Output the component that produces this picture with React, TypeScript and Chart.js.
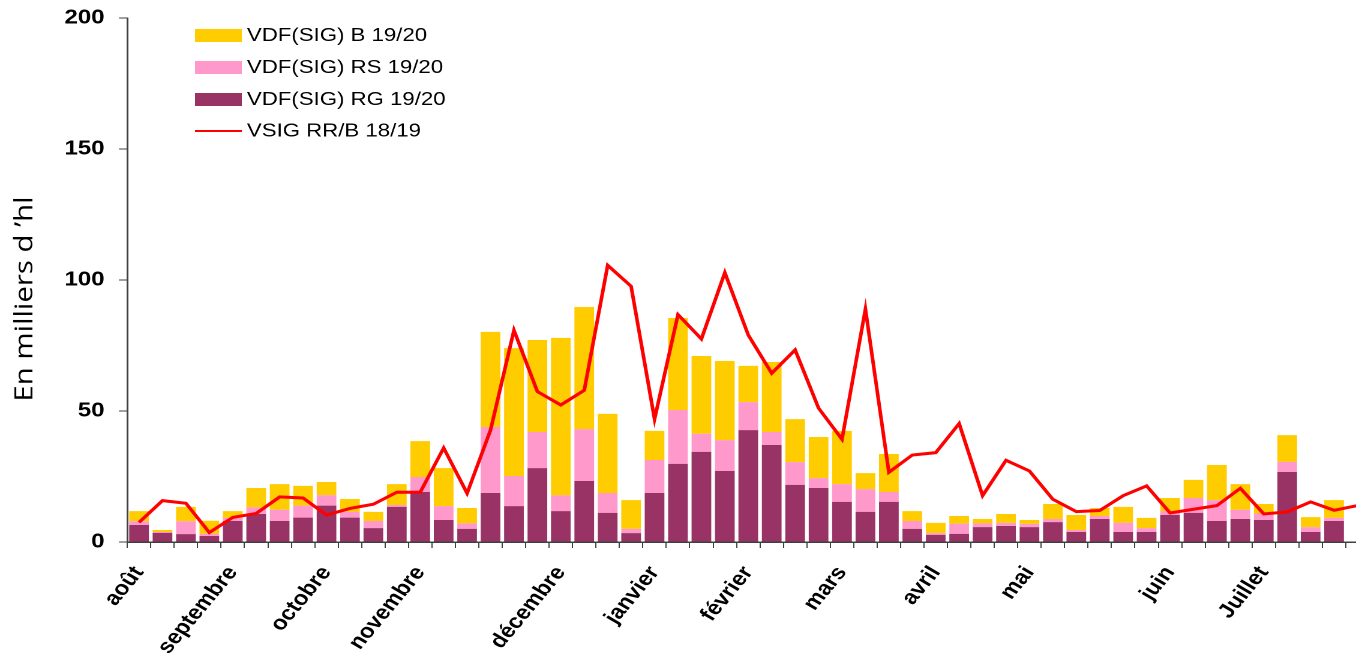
import React, { useEffect, useRef } from "react";
import { Chart, registerables } from "chart.js";

Chart.register(...registerables);

const weekLabels = [
  "août", "", "", "", "septembre", "", "", "", "octobre", "", "", "",
  "novembre", "", "", "", "", "", "décembre", "", "", "", "janvier", "", "",
  "", "février", "", "", "", "mars", "", "", "", "avril", "", "", "", "mai",
  "", "", "", "", "", "juin", "", "", "", "Juillet", "", "", "", "",
];

const rgValues = [
  6.5, 3.5, 3.0, 2.3, 8.0, 10.7, 8.0, 9.3, 13.9, 9.3, 5.3, 13.4, 19.1, 8.4,
  5.0, 18.7, 13.7, 28.2, 11.8, 23.3, 11.1, 3.4, 18.7, 29.8, 34.4, 27.1, 42.7,
  37.0, 21.8, 20.6, 15.3, 11.5, 15.3, 5.0, 2.7, 3.1, 5.7, 6.1, 5.7, 7.6, 3.8,
  8.8, 3.8, 3.8, 10.3, 11.1, 8.0, 8.8, 8.4, 26.7, 3.8, 8.0, null,
];

const rsValues = [
  1.4, 0.3, 4.9, 0.8, 1.2, 2.5, 4.3, 4.6, 4.0, 2.2, 2.7, 0.7, 5.7, 5.3, 2.1,
  25.2, 11.5, 13.8, 6.0, 19.8, 7.6, 1.6, 12.6, 20.6, 6.9, 11.8, 10.7, 5.0, 8.7,
  3.8, 6.8, 8.7, 3.8, 3.0, 0.7, 3.9, 1.4, 1.2, 1.2, 1.2, 0.8, 1.1, 3.5, 1.5,
  1.5, 5.7, 8.0, 3.5, 2.5, 3.9, 1.9, 1.2, null,
];

const bValues = [
  3.9, 0.8, 5.5, 5.0, 2.6, 7.4, 9.8, 7.5, 5.0, 4.9, 3.5, 8.0, 13.7, 14.5, 5.9,
  36.3, 48.8, 35.1, 60.1, 46.6, 30.2, 11.0, 11.1, 35.1, 29.7, 30.2, 13.8, 26.7,
  16.4, 15.7, 20.3, 6.1, 14.5, 3.8, 3.9, 2.9, 1.7, 3.4, 1.5, 5.7, 5.7, 3.1,
  6.1, 3.9, 5.0, 6.9, 13.4, 9.8, 3.6, 10.2, 3.8, 6.8, null,
];

const lineValues = [
  7.5, 15.8, 14.8, 3.6, 9.4, 10.9, 17.2, 16.8, 10.3, 12.8, 14.4, 19.0, 19.0,
  35.9, 18.6, 42.7, 80.8, 57.4, 52.3, 57.9, 105.6, 97.6, 46.9, 86.8, 77.5,
  102.8, 79.0, 64.4, 73.3, 51.1, 39.2, 88.9, 26.6, 33.2, 34.1, 45.2, 17.7,
  31.2, 27.1, 16.3, 11.6, 12.0, 17.7, 21.4, 11.1, 12.5, 13.9, 20.5, 10.7,
  11.5, 15.3, 12.1, 13.9,
];

const yTitle = "En milliers d \u2019hl";

const COLOR_B = "#FFCC00";
const COLOR_RS = "#FF99CC";
const COLOR_RG = "#993366";
const COLOR_LINE = "#FF0000";

const STRETCH = 1.2;
const CANVAS_W = 1146;
const CANVAS_H = 654;
const FONT = '"Liberation Sans", Arial, sans-serif';

export default function App() {
  const ref = useRef<HTMLCanvasElement>(null);

  useEffect(() => {
    if (!ref.current) return;

    const legendPlugin = {
      id: "customLegend",
      afterDraw(chart: any) {
        const ctx = chart.ctx;
        const ds = chart.data.datasets;
        const items = [ds[3], ds[2], ds[1], ds[0]];
        const boxX = 162.5;
        const boxW = 39;
        const textX = 205.8;
        const rowY = [35.5, 67.5, 99.5, 131];
        ctx.save();
        items.forEach((d: any, i: number) => {
          const y = rowY[i];
          if (d.type === "line") {
            ctx.strokeStyle = d.borderColor;
            ctx.lineWidth = 2;
            ctx.beginPath();
            ctx.moveTo(boxX, y);
            ctx.lineTo(boxX + boxW, y);
            ctx.stroke();
          } else {
            ctx.fillStyle = d.backgroundColor;
            ctx.fillRect(boxX, y - 6.5, boxW, 13);
          }
          ctx.fillStyle = "#000";
          ctx.font = `18.5px ${FONT}`;
          ctx.textAlign = "left";
          ctx.textBaseline = "middle";
          ctx.fillText(d.label, textX, y + 0.5);
        });
        ctx.restore();
      },
    };

    const titlePlugin = {
      id: "yTitle",
      afterDraw(chart: any) {
        const ctx = chart.ctx;
        const area = chart.chartArea;
        ctx.save();
        ctx.translate(20.8, (area.top + area.bottom) / 2 + 19);
        ctx.rotate(-Math.PI / 2);
        ctx.scale(1.4, 1);
        ctx.font = `21px "Open Sans", ${FONT}`;
        ctx.fillStyle = "#000";
        ctx.textAlign = "center";
        ctx.textBaseline = "middle";
        ctx.fillText(yTitle, 0, 0);
        ctx.restore();
      },
    };

    const chart = new Chart(ref.current, {
      type: "bar",
      data: {
        labels: weekLabels,
        datasets: [
          {
            type: "line",
            label: "VSIG RR/B 18/19",
            data: lineValues,
            borderColor: COLOR_LINE,
            backgroundColor: COLOR_LINE,
            borderWidth: 3,
            pointRadius: 0,
            tension: 0,
            fill: false,
            order: 0,
            stack: "line",
          } as any,
          {
            label: "VDF(SIG) RG 19/20",
            data: rgValues,
            backgroundColor: COLOR_RG,
            order: 1,
            stack: "bars",
          },
          {
            label: "VDF(SIG) RS 19/20",
            data: rsValues,
            backgroundColor: COLOR_RS,
            order: 1,
            stack: "bars",
          },
          {
            label: "VDF(SIG) B 19/20",
            data: bValues,
            backgroundColor: COLOR_B,
            order: 1,
            stack: "bars",
          },
        ],
      },
      options: {
        responsive: false,
        animation: false,
        devicePixelRatio: 2,
        datasets: {
          bar: { categoryPercentage: 1, barPercentage: 0.84 },
        },
        layout: { padding: { top: 18, right: 5, left: 0, bottom: 0 } },
        plugins: {
          legend: { display: false },
          tooltip: { enabled: false },
          title: { display: false },
        },
        scales: {
          x: {
            stacked: true,
            offset: true,
            grid: {
              offset: true,
              drawOnChartArea: false,
              drawTicks: true,
              tickLength: 6,
              color: "#404040",
              lineWidth: 1,
            },
            border: { display: true, color: "#404040", width: 1.5 },
            ticks: {
              autoSkip: false,
              maxRotation: 55,
              minRotation: 55,
              padding: 14,
              color: "#000",
              font: { family: FONT, size: 20, weight: "bold" },
            },
            afterFit: (s: any) => {
              s.height = CANVAS_H - 542;
              s.paddingLeft = 0;
              s.paddingRight = 0;
            },
          },
          y: {
            stacked: true,
            min: 0,
            max: 200,
            grid: {
              drawOnChartArea: false,
              drawTicks: true,
              tickLength: 7,
              color: "#404040",
            },
            border: { display: true, color: "#404040", width: 1.5 },
            ticks: {
              stepSize: 50,
              padding: 12,
              color: "#000",
              font: { family: FONT, size: 20, weight: "bold" },
            },
            afterFit: (s: any) => {
              s.width = 106.1;
              s.paddingTop = 0;
              s.paddingBottom = 0;
            },
          },
        },
      },
      plugins: [legendPlugin, titlePlugin],
    } as any);

    return () => chart.destroy();
  }, []);

  return (
    <div
      style={{
        position: "absolute",
        left: 0,
        top: 0,
        width: 1356,
        height: CANVAS_H,
        overflow: "hidden",
        background: "#fff",
      }}
    >
      <canvas
        ref={ref}
        width={CANVAS_W}
        height={CANVAS_H}
        style={{
          display: "block",
          width: CANVAS_W,
          height: CANVAS_H,
          transform: `scaleX(${STRETCH})`,
          transformOrigin: "0 0",
        }}
      />
    </div>
  );
}
